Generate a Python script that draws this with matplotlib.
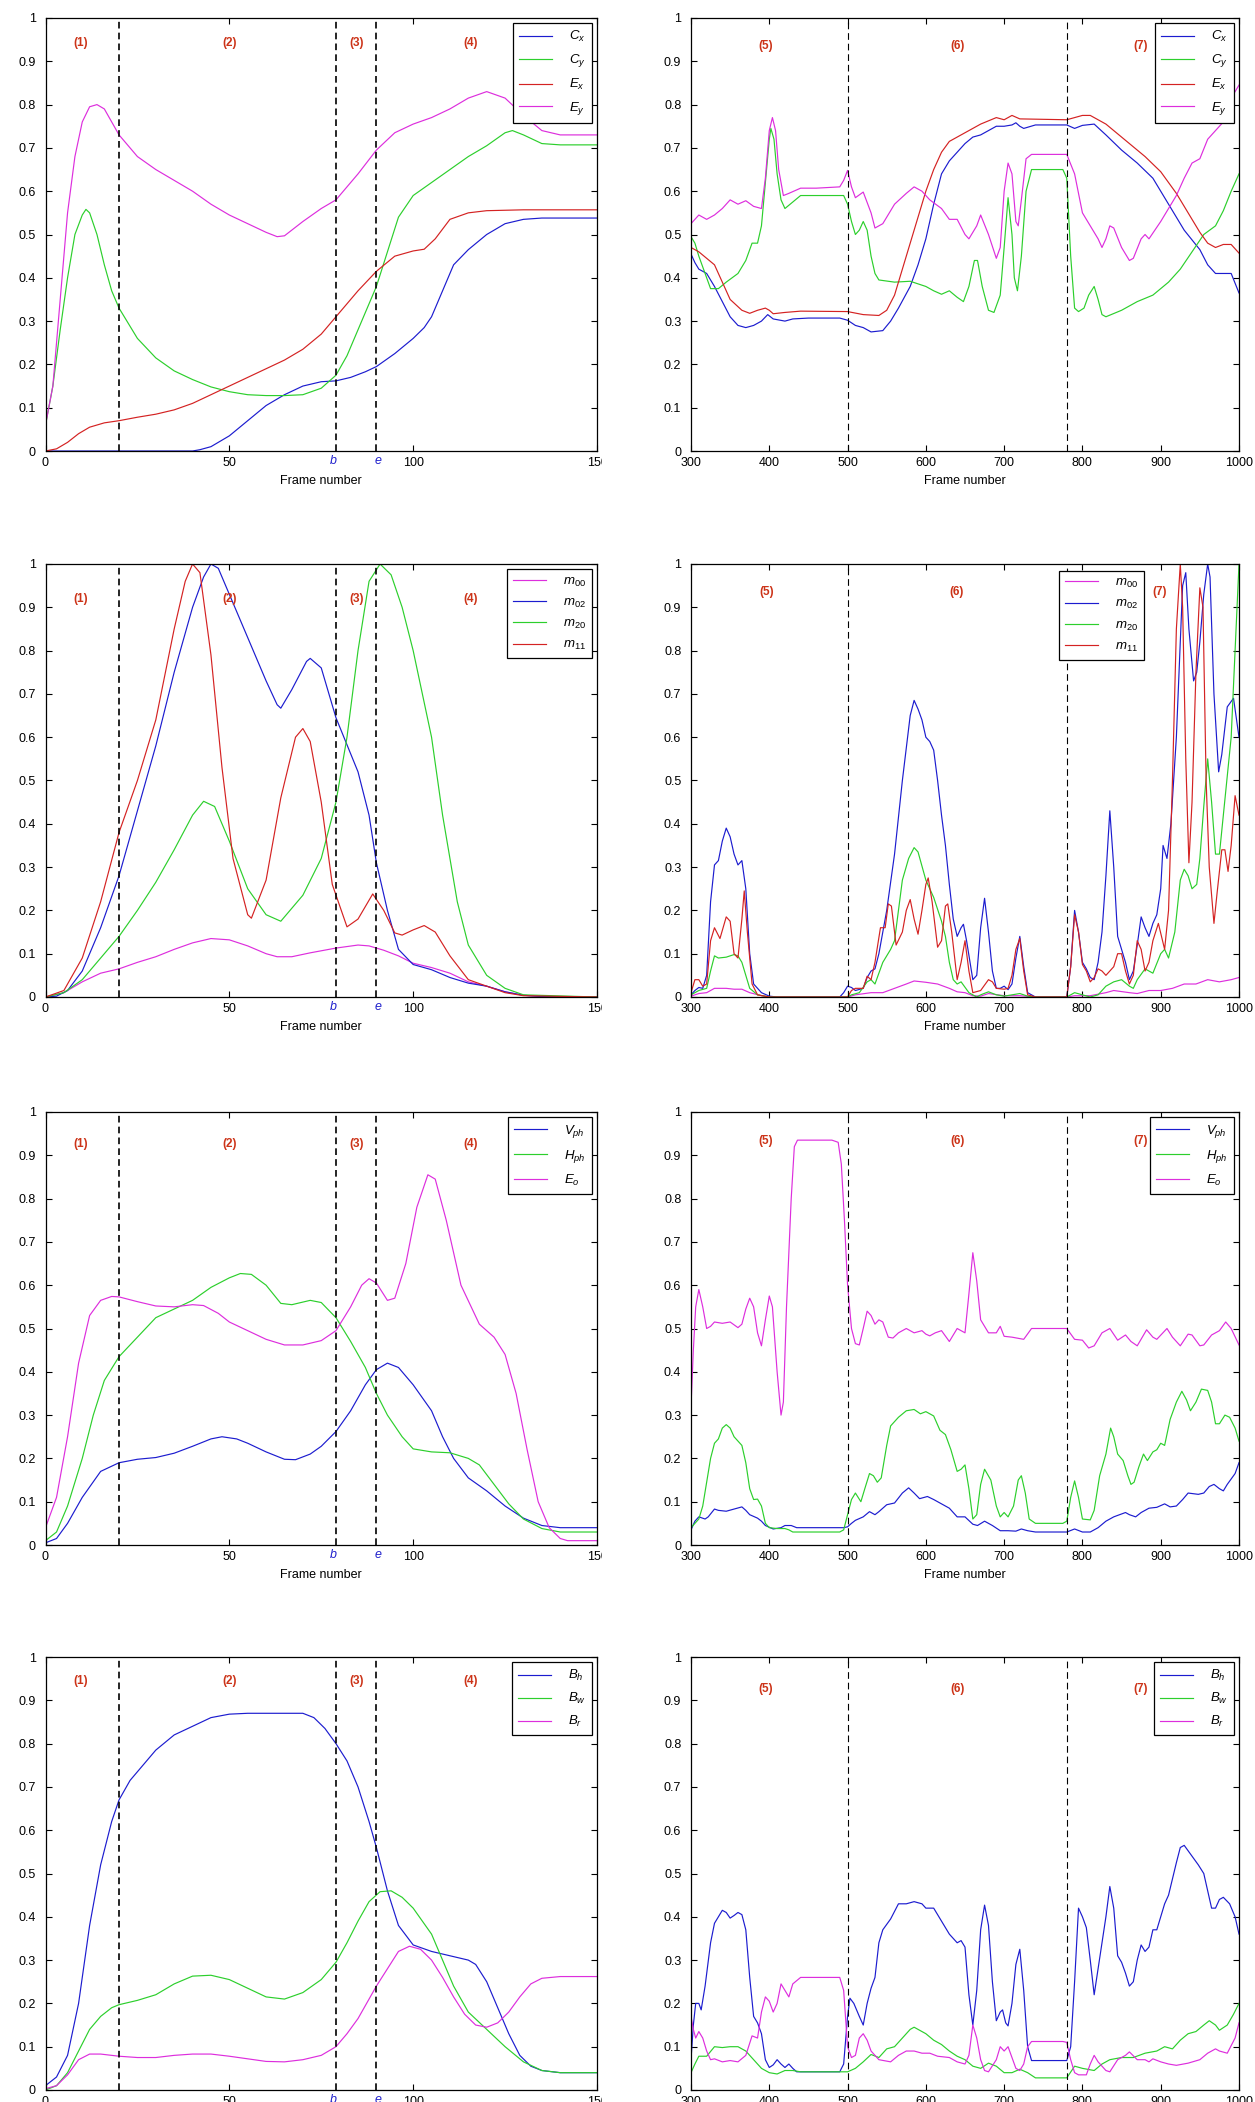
import numpy as np
import matplotlib
matplotlib.use('Agg')
import matplotlib.pyplot as plt
from matplotlib.transforms import Bbox, blended_transform_factory

plt.rcParams['font.family'] = ['Liberation Sans', 'DejaVu Sans']
plt.rcParams['mathtext.fontset'] = 'custom'
plt.rcParams['mathtext.rm'] = 'Liberation Sans'
plt.rcParams['mathtext.it'] = 'Liberation Sans:italic'

# ---- data: (frame, value) ----
# panel 1 : frames 0-150, centroid / extent
p1_cx = [(0, 0), (40, 0), (42, 0.003), (45, 0.01), (48, 0.025), (50, 0.035), (55, 0.07), (60, 0.105),
         (65, 0.13), (70, 0.15), (75, 0.16), (79, 0.162), (83, 0.17), (87, 0.183), (90, 0.195),
         (95, 0.225), (100, 0.26), (103, 0.285), (105, 0.31), (108, 0.37), (111, 0.43), (115, 0.465),
         (120, 0.5), (125, 0.525), (130, 0.535), (135, 0.538), (150, 0.538)]
p1_cy = [(0, 0.06), (2, 0.15), (4, 0.28), (6, 0.4), (8, 0.5), (10, 0.545), (11, 0.558), (12, 0.55),
         (14, 0.5), (16, 0.43), (18, 0.37), (20, 0.33), (25, 0.26), (30, 0.215), (35, 0.185),
         (40, 0.165), (45, 0.148), (50, 0.137), (55, 0.13), (60, 0.128), (65, 0.128), (70, 0.13),
         (75, 0.145), (79, 0.175), (82, 0.22), (85, 0.28), (88, 0.34), (90, 0.38), (93, 0.46),
         (96, 0.54), (100, 0.59), (105, 0.62), (110, 0.65), (115, 0.68), (120, 0.705), (125, 0.735),
         (127, 0.74), (130, 0.73), (135, 0.71), (140, 0.707), (150, 0.707)]
p1_ex = [(0, 0), (3, 0.005), (6, 0.02), (9, 0.04), (12, 0.055), (16, 0.065), (20, 0.07), (25, 0.078),
         (30, 0.085), (35, 0.095), (40, 0.11), (45, 0.13), (50, 0.15), (55, 0.17), (60, 0.19),
         (65, 0.21), (70, 0.235), (75, 0.27), (79, 0.31), (85, 0.37), (90, 0.415), (95, 0.45),
         (100, 0.462), (103, 0.466), (106, 0.49), (110, 0.535), (115, 0.55), (120, 0.555),
         (130, 0.557), (150, 0.557)]
p1_ey = [(0, 0.06), (2, 0.15), (4, 0.35), (6, 0.55), (8, 0.68), (10, 0.76), (12, 0.795), (14, 0.8),
         (16, 0.79), (18, 0.76), (20, 0.73), (25, 0.68), (30, 0.65), (35, 0.625), (40, 0.6),
         (45, 0.57), (50, 0.545), (55, 0.525), (60, 0.505), (63, 0.495), (65, 0.497), (70, 0.53),
         (75, 0.56), (79, 0.58), (85, 0.64), (90, 0.695), (95, 0.735), (100, 0.755), (105, 0.77),
         (110, 0.79), (115, 0.815), (120, 0.83), (125, 0.815), (130, 0.775), (135, 0.74),
         (140, 0.73), (150, 0.73)]

# panel 2 : frames 300-1000
p2_cx = [(300, 0.455), (305, 0.435), (310, 0.42), (320, 0.41), (330, 0.38), (340, 0.345), (350, 0.31),
         (360, 0.29), (370, 0.285), (380, 0.29), (390, 0.3), (398, 0.315), (405, 0.305), (420, 0.3),
         (430, 0.305), (450, 0.307), (490, 0.307), (500, 0.302), (510, 0.29), (520, 0.285),
         (530, 0.275), (545, 0.278), (555, 0.3), (565, 0.33), (580, 0.38), (590, 0.43), (600, 0.49),
         (610, 0.57), (620, 0.64), (630, 0.67), (640, 0.69), (650, 0.71), (660, 0.725), (670, 0.73),
         (680, 0.74), (690, 0.75), (700, 0.75), (710, 0.753), (715, 0.758), (720, 0.75), (725, 0.745),
         (740, 0.753), (780, 0.753), (790, 0.745), (800, 0.752), (815, 0.755), (830, 0.73),
         (850, 0.695), (870, 0.665), (890, 0.63), (910, 0.57), (930, 0.51), (950, 0.465),
         (960, 0.43), (970, 0.41), (990, 0.41), (1000, 0.365)]
p2_cy = [(300, 0.495), (305, 0.48), (310, 0.45), (320, 0.4), (325, 0.375), (335, 0.375), (345, 0.39),
         (360, 0.41), (370, 0.44), (378, 0.48), (385, 0.48), (390, 0.52), (395, 0.62), (400, 0.72),
         (402, 0.745), (406, 0.72), (410, 0.64), (415, 0.58), (420, 0.56), (430, 0.575), (440, 0.59),
         (495, 0.59), (500, 0.57), (505, 0.53), (510, 0.5), (515, 0.51), (520, 0.53), (525, 0.51),
         (530, 0.45), (535, 0.41), (540, 0.395), (560, 0.39), (580, 0.392), (600, 0.38), (610, 0.37),
         (620, 0.362), (630, 0.37), (640, 0.355), (648, 0.345), (655, 0.38), (662, 0.44), (666, 0.44),
         (672, 0.38), (680, 0.325), (687, 0.32), (695, 0.36), (700, 0.47), (705, 0.585), (710, 0.5),
         (713, 0.4), (717, 0.37), (722, 0.45), (728, 0.6), (735, 0.65), (775, 0.65), (780, 0.63),
         (785, 0.45), (790, 0.33), (795, 0.322), (802, 0.33), (808, 0.36), (815, 0.38), (820, 0.35),
         (825, 0.315), (830, 0.31), (850, 0.325), (870, 0.345), (890, 0.36), (910, 0.39), (925, 0.42),
         (940, 0.46), (955, 0.5), (970, 0.52), (980, 0.555), (990, 0.6), (1000, 0.64)]
p2_ex = [(300, 0.47), (310, 0.46), (320, 0.445), (330, 0.43), (340, 0.39), (350, 0.35), (365, 0.325),
         (375, 0.318), (385, 0.325), (395, 0.33), (400, 0.325), (405, 0.317), (420, 0.32), (440, 0.323),
         (500, 0.322), (520, 0.315), (540, 0.313), (550, 0.325), (560, 0.36), (570, 0.42), (580, 0.48),
         (590, 0.54), (600, 0.6), (610, 0.65), (620, 0.69), (630, 0.715), (650, 0.735), (670, 0.755),
         (690, 0.77), (700, 0.765), (710, 0.775), (720, 0.767), (780, 0.765), (790, 0.77),
         (800, 0.775), (810, 0.775), (820, 0.765), (830, 0.755), (850, 0.725), (870, 0.695),
         (880, 0.68), (900, 0.645), (910, 0.62), (920, 0.595), (930, 0.565), (940, 0.535),
         (950, 0.505), (960, 0.48), (970, 0.47), (980, 0.477), (990, 0.477), (1000, 0.457)]
p2_ey = [(300, 0.525), (310, 0.545), (320, 0.535), (330, 0.545), (340, 0.56), (350, 0.58), (360, 0.57),
         (370, 0.578), (380, 0.565), (390, 0.56), (395, 0.63), (400, 0.74), (404, 0.77), (408, 0.74),
         (412, 0.65), (418, 0.59), (425, 0.595), (440, 0.607), (460, 0.607), (490, 0.61), (495, 0.625),
         (500, 0.648), (505, 0.61), (510, 0.585), (520, 0.598), (530, 0.55), (535, 0.515), (545, 0.525),
         (560, 0.57), (575, 0.595), (585, 0.61), (595, 0.6), (605, 0.58), (620, 0.56), (630, 0.535),
         (640, 0.535), (650, 0.5), (655, 0.49), (665, 0.52), (670, 0.545), (680, 0.5), (690, 0.445),
         (695, 0.47), (700, 0.6), (705, 0.665), (710, 0.64), (715, 0.53), (718, 0.52), (722, 0.58),
         (728, 0.675), (735, 0.685), (780, 0.685), (790, 0.64), (800, 0.55), (810, 0.52), (820, 0.49),
         (825, 0.47), (830, 0.49), (835, 0.52), (840, 0.515), (850, 0.47), (860, 0.44), (865, 0.445),
         (875, 0.49), (880, 0.5), (885, 0.49), (900, 0.53), (910, 0.56), (920, 0.59), (930, 0.63),
         (940, 0.665), (950, 0.675), (960, 0.72), (970, 0.74), (980, 0.76), (985, 0.8), (995, 0.83),
         (1000, 0.845)]

# panel 3 : moments
p3_m00 = [(0, 0), (5, 0.01), (10, 0.035), (15, 0.055), (20, 0.065), (25, 0.08), (30, 0.093), (35, 0.11),
          (40, 0.125), (45, 0.135), (50, 0.132), (55, 0.118), (60, 0.1), (63, 0.093), (67, 0.093),
          (72, 0.102), (79, 0.113), (85, 0.12), (88, 0.118), (92, 0.108), (96, 0.095), (100, 0.078),
          (105, 0.068), (110, 0.055), (115, 0.035), (120, 0.025), (125, 0.012), (130, 0.004),
          (135, 0.001), (150, 0)]
p3_m02 = [(0, 0), (3, 0.002), (6, 0.015), (10, 0.06), (15, 0.16), (20, 0.28), (25, 0.43), (30, 0.58),
          (35, 0.75), (40, 0.9), (43, 0.97), (45, 1.0), (47, 0.99), (50, 0.93), (55, 0.83), (60, 0.73),
          (63, 0.675), (64, 0.667), (67, 0.71), (71, 0.775), (72, 0.782), (75, 0.76), (79, 0.645),
          (85, 0.52), (88, 0.42), (90, 0.31), (93, 0.2), (96, 0.11), (100, 0.075), (105, 0.063),
          (110, 0.045), (115, 0.032), (120, 0.025), (125, 0.012), (130, 0.004), (135, 0.001), (150, 0)]
p3_m20 = [(0, 0), (5, 0.01), (10, 0.04), (15, 0.09), (20, 0.14), (25, 0.2), (30, 0.265), (35, 0.34),
          (40, 0.42), (43, 0.452), (46, 0.44), (50, 0.36), (55, 0.25), (60, 0.19), (64, 0.175),
          (70, 0.235), (75, 0.32), (79, 0.45), (82, 0.6), (85, 0.8), (88, 0.96), (91, 1.0), (94, 0.975),
          (97, 0.9), (100, 0.8), (105, 0.6), (108, 0.42), (112, 0.22), (115, 0.12), (120, 0.05),
          (125, 0.02), (130, 0.005), (150, 0)]
p3_m11 = [(0, 0), (5, 0.015), (10, 0.09), (15, 0.22), (20, 0.38), (25, 0.5), (30, 0.64), (35, 0.85),
          (38, 0.96), (40, 1.0), (42, 0.98), (45, 0.79), (48, 0.53), (51, 0.32), (55, 0.19), (56, 0.182),
          (60, 0.27), (64, 0.46), (68, 0.6), (70, 0.62), (72, 0.59), (75, 0.45), (78, 0.26), (82, 0.162),
          (85, 0.18), (89, 0.238), (92, 0.2), (95, 0.148), (97, 0.143), (100, 0.155), (103, 0.165),
          (106, 0.15), (110, 0.095), (115, 0.04), (120, 0.025), (125, 0.01), (130, 0.003), (150, 0)]

# panel 4
p4_m00 = [(300, 0.002), (310, 0.008), (320, 0.01), (330, 0.02), (345, 0.02), (355, 0.018), (365, 0.018),
          (375, 0.01), (390, 0.003), (400, 0), (500, 0), (510, 0.005), (530, 0.01), (545, 0.01),
          (560, 0.02), (575, 0.03), (585, 0.037), (600, 0.034), (615, 0.03), (630, 0.02), (640, 0.012),
          (650, 0.01), (660, 0.003), (670, 0.002), (680, 0.008), (700, 0.003), (720, 0.003), (740, 0),
          (780, 0), (790, 0.003), (810, 0.003), (830, 0.01), (840, 0.015), (860, 0.01), (870, 0.008),
          (885, 0.015), (900, 0.015), (915, 0.02), (930, 0.03), (945, 0.03), (960, 0.04), (975, 0.035),
          (990, 0.04), (1000, 0.045)]
p4_m02 = [(300, 0.005), (305, 0.015), (310, 0.022), (315, 0.02), (320, 0.05), (325, 0.22), (330, 0.305),
          (335, 0.315), (340, 0.36), (345, 0.39), (350, 0.37), (355, 0.33), (360, 0.305), (365, 0.315),
          (370, 0.25), (375, 0.1), (380, 0.03), (390, 0.01), (400, 0.002), (410, 0), (490, 0),
          (495, 0.01), (500, 0.025), (505, 0.022), (510, 0.015), (520, 0.02), (525, 0.045), (530, 0.06),
          (535, 0.065), (540, 0.1), (550, 0.2), (560, 0.33), (570, 0.5), (580, 0.65), (585, 0.685),
          (590, 0.665), (595, 0.64), (600, 0.6), (605, 0.59), (610, 0.57), (615, 0.5), (620, 0.42),
          (625, 0.35), (630, 0.26), (635, 0.18), (640, 0.14), (645, 0.16), (648, 0.168), (652, 0.13),
          (660, 0.04), (665, 0.05), (670, 0.16), (675, 0.228), (680, 0.15), (685, 0.06), (690, 0.02),
          (695, 0.02), (700, 0.025), (705, 0.017), (710, 0.03), (715, 0.09), (720, 0.14), (725, 0.07),
          (730, 0.01), (740, 0), (780, 0), (785, 0.07), (790, 0.2), (795, 0.15), (800, 0.08),
          (805, 0.065), (810, 0.045), (815, 0.04), (820, 0.08), (825, 0.15), (830, 0.28), (835, 0.43),
          (840, 0.3), (845, 0.14), (850, 0.11), (855, 0.08), (860, 0.04), (865, 0.06), (870, 0.12),
          (875, 0.185), (880, 0.16), (885, 0.14), (890, 0.17), (895, 0.19), (900, 0.25), (903, 0.35),
          (908, 0.32), (913, 0.4), (920, 0.6), (925, 0.82), (928, 0.95), (932, 0.98), (936, 0.85),
          (942, 0.73), (946, 0.75), (950, 0.82), (955, 0.93), (960, 1.0), (963, 0.97), (968, 0.7),
          (974, 0.52), (978, 0.56), (985, 0.67), (993, 0.69), (1000, 0.6)]
p4_m20 = [(300, 0.005), (310, 0.015), (320, 0.02), (325, 0.06), (330, 0.095), (335, 0.09), (345, 0.092),
          (355, 0.098), (360, 0.095), (365, 0.08), (370, 0.05), (375, 0.02), (385, 0.005), (400, 0),
          (500, 0), (505, 0.005), (515, 0.01), (525, 0.035), (530, 0.04), (535, 0.03), (545, 0.08),
          (555, 0.11), (560, 0.13), (565, 0.2), (570, 0.27), (578, 0.32), (585, 0.345), (590, 0.335),
          (600, 0.27), (610, 0.23), (620, 0.175), (625, 0.14), (630, 0.08), (635, 0.04), (640, 0.03),
          (645, 0.035), (655, 0.01), (665, 0), (670, 0.005), (680, 0.012), (690, 0.005), (700, 0.002),
          (710, 0.005), (720, 0.008), (730, 0.002), (740, 0), (780, 0), (790, 0.01), (800, 0.005),
          (810, 0), (820, 0.005), (830, 0.025), (840, 0.035), (850, 0.04), (860, 0.025), (865, 0.02),
          (870, 0.04), (880, 0.065), (890, 0.055), (900, 0.1), (905, 0.11), (910, 0.09), (918, 0.15),
          (925, 0.27), (930, 0.295), (935, 0.28), (940, 0.25), (946, 0.26), (950, 0.32), (955, 0.44),
          (960, 0.55), (965, 0.45), (970, 0.33), (975, 0.33), (980, 0.42), (990, 0.6), (995, 0.8),
          (1000, 1.0)]
p4_m11 = [(300, 0.01), (305, 0.04), (310, 0.04), (315, 0.025), (320, 0.03), (325, 0.13), (330, 0.16),
          (337, 0.135), (345, 0.185), (350, 0.175), (355, 0.1), (360, 0.09), (365, 0.18), (368, 0.245),
          (372, 0.15), (378, 0.03), (385, 0.005), (400, 0), (500, 0), (505, 0.015), (510, 0.02),
          (520, 0.02), (525, 0.048), (530, 0.04), (535, 0.08), (542, 0.16), (548, 0.16), (552, 0.215),
          (556, 0.21), (562, 0.12), (570, 0.15), (575, 0.2), (580, 0.225), (585, 0.18), (590, 0.145),
          (595, 0.2), (600, 0.26), (603, 0.275), (608, 0.22), (615, 0.115), (620, 0.13), (625, 0.21),
          (628, 0.215), (633, 0.15), (640, 0.04), (645, 0.08), (650, 0.13), (655, 0.06), (660, 0.01),
          (670, 0.015), (680, 0.04), (685, 0.035), (690, 0.02), (700, 0.018), (705, 0.02), (710, 0.05),
          (715, 0.11), (720, 0.135), (725, 0.06), (730, 0.005), (740, 0), (780, 0), (785, 0.07),
          (790, 0.19), (795, 0.15), (800, 0.075), (805, 0.06), (810, 0.035), (815, 0.045), (820, 0.065),
          (825, 0.06), (830, 0.05), (840, 0.07), (845, 0.1), (850, 0.1), (855, 0.06), (860, 0.03),
          (865, 0.05), (870, 0.13), (875, 0.11), (880, 0.06), (885, 0.08), (890, 0.13), (897, 0.17),
          (905, 0.11), (910, 0.2), (915, 0.5), (920, 0.85), (925, 1.0), (928, 0.9), (932, 0.55),
          (936, 0.31), (940, 0.45), (945, 0.75), (950, 0.945), (954, 0.9), (958, 0.5), (962, 0.3),
          (968, 0.17), (972, 0.24), (978, 0.34), (982, 0.34), (986, 0.29), (990, 0.35), (995, 0.465),
          (1000, 0.42)]

# panel 5 : projections
p5_vph = [(0, 0.005), (3, 0.015), (6, 0.05), (10, 0.11), (15, 0.17), (20, 0.19), (25, 0.198), (30, 0.202),
          (35, 0.212), (40, 0.228), (45, 0.245), (48, 0.25), (52, 0.245), (55, 0.235), (60, 0.215),
          (65, 0.198), (68, 0.197), (72, 0.21), (75, 0.228), (79, 0.262), (83, 0.31), (87, 0.37),
          (90, 0.405), (93, 0.42), (96, 0.41), (100, 0.37), (105, 0.31), (108, 0.25), (111, 0.2),
          (115, 0.155), (120, 0.125), (125, 0.09), (130, 0.062), (135, 0.045), (140, 0.04), (150, 0.04)]
p5_hph = [(0, 0.01), (3, 0.03), (6, 0.09), (10, 0.2), (13, 0.3), (16, 0.38), (20, 0.435), (25, 0.48),
          (30, 0.525), (35, 0.545), (40, 0.565), (45, 0.595), (50, 0.617), (53, 0.627), (56, 0.625),
          (60, 0.6), (64, 0.558), (67, 0.555), (72, 0.565), (75, 0.56), (79, 0.525), (83, 0.47),
          (87, 0.41), (90, 0.35), (93, 0.3), (97, 0.25), (100, 0.222), (105, 0.215), (110, 0.213),
          (115, 0.2), (118, 0.185), (122, 0.14), (126, 0.095), (130, 0.06), (135, 0.038), (140, 0.03),
          (150, 0.03)]
p5_eo = [(0, 0.04), (3, 0.11), (6, 0.25), (9, 0.42), (12, 0.53), (15, 0.565), (18, 0.574), (20, 0.573),
         (25, 0.562), (30, 0.552), (35, 0.55), (40, 0.555), (43, 0.553), (47, 0.535), (50, 0.515),
         (55, 0.495), (60, 0.475), (65, 0.462), (70, 0.462), (75, 0.472), (79, 0.495), (83, 0.55),
         (86, 0.6), (88, 0.615), (90, 0.605), (93, 0.565), (95, 0.57), (98, 0.65), (101, 0.78),
         (104, 0.855), (106, 0.845), (109, 0.75), (113, 0.6), (118, 0.51), (122, 0.48), (125, 0.44),
         (128, 0.35), (131, 0.22), (134, 0.1), (137, 0.04), (140, 0.015), (142, 0.01), (150, 0.01)]

# panel 6
p6_vph = [(300, 0.035), (305, 0.055), (310, 0.065), (318, 0.06), (322, 0.065), (330, 0.083), (335, 0.08),
          (345, 0.078), (355, 0.083), (365, 0.088), (370, 0.08), (375, 0.07), (385, 0.062), (390, 0.055),
          (395, 0.045), (405, 0.037), (415, 0.04), (420, 0.045), (428, 0.045), (435, 0.04), (495, 0.04),
          (500, 0.042), (505, 0.05), (510, 0.057), (520, 0.065), (528, 0.077), (535, 0.07), (540, 0.077),
          (550, 0.093), (560, 0.097), (570, 0.12), (578, 0.132), (585, 0.12), (592, 0.107), (602, 0.112),
          (610, 0.105), (620, 0.095), (630, 0.085), (640, 0.065), (650, 0.065), (660, 0.048),
          (666, 0.045), (675, 0.055), (685, 0.045), (695, 0.033), (705, 0.033), (715, 0.032),
          (722, 0.037), (730, 0.033), (740, 0.03), (780, 0.03), (790, 0.037), (800, 0.03), (810, 0.03),
          (820, 0.04), (830, 0.055), (840, 0.065), (855, 0.075), (860, 0.07), (868, 0.065), (875, 0.075),
          (885, 0.085), (895, 0.087), (905, 0.095), (912, 0.088), (920, 0.09), (928, 0.105), (935, 0.12),
          (948, 0.117), (955, 0.12), (962, 0.135), (968, 0.14), (975, 0.13), (980, 0.125), (985, 0.14),
          (995, 0.165), (1000, 0.19)]
p6_hph = [(300, 0.04), (305, 0.05), (310, 0.06), (315, 0.09), (320, 0.145), (325, 0.2), (330, 0.235),
          (335, 0.245), (340, 0.27), (345, 0.278), (350, 0.27), (355, 0.25), (365, 0.23), (370, 0.19),
          (375, 0.13), (380, 0.105), (385, 0.106), (390, 0.09), (395, 0.05), (400, 0.04), (410, 0.038),
          (420, 0.038), (425, 0.035), (430, 0.03), (490, 0.03), (495, 0.035), (500, 0.07), (505, 0.105),
          (510, 0.12), (517, 0.1), (522, 0.13), (528, 0.165), (533, 0.16), (538, 0.145), (543, 0.155),
          (550, 0.23), (555, 0.275), (565, 0.295), (575, 0.31), (585, 0.313), (593, 0.303), (600, 0.308),
          (610, 0.298), (618, 0.265), (625, 0.255), (632, 0.22), (640, 0.17), (645, 0.175), (650, 0.185),
          (655, 0.13), (660, 0.06), (665, 0.07), (670, 0.14), (675, 0.175), (683, 0.15), (690, 0.09),
          (695, 0.065), (700, 0.075), (705, 0.065), (712, 0.09), (718, 0.15), (722, 0.16), (727, 0.12),
          (732, 0.06), (740, 0.05), (775, 0.05), (780, 0.055), (785, 0.11), (790, 0.148), (795, 0.11),
          (800, 0.06), (810, 0.058), (815, 0.08), (822, 0.16), (830, 0.21), (836, 0.27), (840, 0.25),
          (845, 0.21), (852, 0.195), (858, 0.16), (862, 0.14), (866, 0.145), (872, 0.18), (878, 0.21),
          (883, 0.195), (890, 0.215), (895, 0.22), (900, 0.235), (905, 0.23), (912, 0.29), (920, 0.33),
          (927, 0.355), (933, 0.335), (938, 0.31), (945, 0.33), (952, 0.36), (960, 0.357), (965, 0.33),
          (970, 0.28), (975, 0.28), (982, 0.3), (988, 0.295), (995, 0.27), (1000, 0.24)]
p6_eo = [(300, 0.32), (303, 0.45), (306, 0.55), (310, 0.59), (315, 0.55), (320, 0.5), (325, 0.505),
         (330, 0.515), (340, 0.512), (350, 0.515), (360, 0.502), (365, 0.51), (370, 0.545), (375, 0.57),
         (380, 0.55), (385, 0.49), (390, 0.46), (395, 0.52), (400, 0.575), (404, 0.55), (410, 0.4),
         (415, 0.3), (418, 0.33), (422, 0.55), (428, 0.8), (432, 0.92), (436, 0.935), (480, 0.935),
         (488, 0.93), (492, 0.88), (496, 0.75), (500, 0.6), (505, 0.5), (510, 0.465), (515, 0.462),
         (520, 0.5), (525, 0.54), (530, 0.53), (535, 0.51), (540, 0.52), (545, 0.515), (552, 0.48),
         (558, 0.478), (565, 0.49), (575, 0.5), (585, 0.49), (595, 0.495), (600, 0.487), (605, 0.483),
         (612, 0.49), (620, 0.495), (630, 0.47), (640, 0.5), (645, 0.495), (650, 0.49), (655, 0.58),
         (660, 0.675), (665, 0.61), (670, 0.52), (680, 0.49), (690, 0.49), (695, 0.505), (700, 0.482),
         (710, 0.48), (725, 0.475), (735, 0.5), (780, 0.5), (790, 0.475), (800, 0.473), (808, 0.455),
         (815, 0.46), (825, 0.49), (835, 0.5), (845, 0.473), (855, 0.485), (862, 0.47), (870, 0.46),
         (882, 0.497), (890, 0.48), (895, 0.475), (908, 0.5), (915, 0.48), (925, 0.46), (935, 0.487),
         (940, 0.485), (950, 0.46), (955, 0.462), (965, 0.485), (975, 0.495), (983, 0.515), (990, 0.5),
         (1000, 0.462)]

# panel 7 : bounding box
p7_bh = [(0, 0.01), (3, 0.03), (6, 0.08), (9, 0.2), (12, 0.38), (15, 0.52), (18, 0.62), (20, 0.67),
         (23, 0.715), (26, 0.745), (30, 0.785), (35, 0.82), (40, 0.84), (45, 0.86), (50, 0.868),
         (55, 0.87), (70, 0.87), (73, 0.86), (76, 0.835), (79, 0.8), (82, 0.76), (85, 0.7), (88, 0.62),
         (90, 0.56), (93, 0.46), (96, 0.38), (100, 0.335), (105, 0.32), (110, 0.31), (115, 0.3),
         (117, 0.29), (120, 0.25), (123, 0.19), (126, 0.13), (129, 0.08), (132, 0.055), (135, 0.045),
         (140, 0.04), (150, 0.04)]
p7_bw = [(0, 0), (3, 0.01), (6, 0.04), (9, 0.09), (12, 0.14), (15, 0.17), (18, 0.19), (20, 0.197),
         (25, 0.207), (30, 0.22), (35, 0.245), (40, 0.263), (45, 0.265), (50, 0.255), (55, 0.235),
         (60, 0.215), (65, 0.21), (70, 0.225), (75, 0.255), (79, 0.295), (82, 0.34), (85, 0.39),
         (88, 0.435), (91, 0.458), (94, 0.46), (97, 0.445), (100, 0.42), (105, 0.36), (108, 0.3),
         (111, 0.24), (115, 0.18), (120, 0.14), (125, 0.1), (130, 0.065), (135, 0.045), (140, 0.04),
         (150, 0.04)]
p7_br = [(0, 0.003), (3, 0.01), (6, 0.035), (9, 0.07), (12, 0.083), (15, 0.083), (20, 0.078), (25, 0.075),
         (30, 0.075), (35, 0.08), (40, 0.083), (45, 0.083), (50, 0.078), (55, 0.072), (60, 0.066),
         (65, 0.065), (70, 0.07), (75, 0.08), (79, 0.1), (82, 0.13), (85, 0.165), (88, 0.21), (90, 0.24),
         (93, 0.28), (96, 0.32), (99, 0.332), (102, 0.325), (105, 0.3), (108, 0.26), (111, 0.215),
         (114, 0.175), (117, 0.15), (120, 0.145), (123, 0.155), (126, 0.18), (129, 0.215), (132, 0.245),
         (135, 0.258), (140, 0.262), (150, 0.262)]

# panel 8
p8_bh = [(300, 0.07), (303, 0.15), (306, 0.2), (310, 0.2), (313, 0.185), (318, 0.24), (325, 0.34),
         (330, 0.385), (335, 0.4), (340, 0.415), (345, 0.41), (350, 0.397), (355, 0.403), (360, 0.41),
         (365, 0.405), (370, 0.37), (375, 0.26), (380, 0.17), (385, 0.155), (390, 0.13), (395, 0.07),
         (400, 0.052), (405, 0.058), (410, 0.07), (415, 0.06), (420, 0.052), (425, 0.06), (430, 0.05),
         (435, 0.042), (490, 0.042), (495, 0.06), (500, 0.17), (503, 0.212), (508, 0.2), (515, 0.17),
         (520, 0.15), (525, 0.2), (530, 0.235), (535, 0.26), (540, 0.34), (545, 0.37), (555, 0.395),
         (565, 0.43), (575, 0.43), (585, 0.435), (595, 0.43), (600, 0.42), (610, 0.42), (620, 0.39),
         (630, 0.36), (640, 0.34), (645, 0.345), (650, 0.33), (655, 0.22), (660, 0.15), (665, 0.23),
         (670, 0.37), (675, 0.427), (680, 0.38), (685, 0.25), (690, 0.16), (695, 0.18), (698, 0.185),
         (702, 0.155), (705, 0.148), (710, 0.2), (715, 0.29), (720, 0.325), (725, 0.23), (730, 0.1),
         (735, 0.068), (780, 0.068), (785, 0.1), (790, 0.25), (795, 0.42), (800, 0.4), (805, 0.375),
         (810, 0.3), (815, 0.22), (820, 0.28), (825, 0.34), (830, 0.4), (835, 0.47), (840, 0.42),
         (845, 0.31), (850, 0.295), (855, 0.27), (860, 0.24), (865, 0.25), (870, 0.3), (875, 0.335),
         (880, 0.32), (885, 0.33), (890, 0.37), (895, 0.37), (900, 0.4), (905, 0.43), (910, 0.45),
         (920, 0.525), (925, 0.56), (930, 0.565), (940, 0.54), (948, 0.52), (955, 0.5), (960, 0.46),
         (965, 0.42), (970, 0.42), (975, 0.44), (980, 0.445), (988, 0.43), (995, 0.4), (1000, 0.36)]
p8_bw = [(300, 0.04), (305, 0.06), (310, 0.078), (320, 0.078), (330, 0.1), (340, 0.098), (350, 0.1),
         (360, 0.1), (370, 0.09), (380, 0.07), (390, 0.05), (400, 0.04), (410, 0.037), (420, 0.045),
         (430, 0.045), (440, 0.042), (500, 0.042), (510, 0.05), (520, 0.065), (530, 0.082), (540, 0.075),
         (550, 0.095), (560, 0.1), (570, 0.12), (580, 0.14), (585, 0.145), (590, 0.14), (600, 0.13),
         (610, 0.115), (620, 0.105), (630, 0.09), (640, 0.078), (650, 0.07), (660, 0.055), (670, 0.05),
         (680, 0.062), (690, 0.055), (700, 0.04), (710, 0.04), (720, 0.048), (730, 0.04), (740, 0.028),
         (780, 0.028), (790, 0.055), (800, 0.05), (815, 0.045), (825, 0.06), (835, 0.07), (850, 0.075),
         (865, 0.075), (880, 0.085), (895, 0.09), (905, 0.1), (915, 0.095), (925, 0.115), (935, 0.13),
         (945, 0.135), (955, 0.15), (962, 0.16), (970, 0.15), (975, 0.138), (985, 0.15), (993, 0.175),
         (1000, 0.2)]
p8_br = [(300, 0.17), (303, 0.14), (306, 0.12), (310, 0.135), (315, 0.12), (320, 0.09), (325, 0.07),
         (330, 0.072), (340, 0.065), (350, 0.068), (360, 0.065), (370, 0.08), (378, 0.125), (385, 0.12),
         (390, 0.18), (395, 0.215), (400, 0.205), (405, 0.18), (410, 0.2), (415, 0.245), (420, 0.23),
         (425, 0.215), (430, 0.245), (440, 0.26), (490, 0.26), (495, 0.23), (500, 0.1), (505, 0.075),
         (510, 0.08), (515, 0.12), (520, 0.13), (525, 0.115), (530, 0.09), (540, 0.07), (555, 0.065),
         (565, 0.08), (575, 0.09), (585, 0.09), (595, 0.085), (605, 0.085), (615, 0.078), (630, 0.075),
         (640, 0.065), (650, 0.06), (655, 0.08), (660, 0.15), (665, 0.12), (670, 0.07), (675, 0.045),
         (680, 0.042), (690, 0.07), (695, 0.1), (700, 0.09), (705, 0.1), (710, 0.075), (715, 0.05),
         (720, 0.045), (725, 0.06), (730, 0.1), (735, 0.112), (775, 0.112), (780, 0.11), (785, 0.07),
         (790, 0.04), (795, 0.035), (805, 0.035), (810, 0.06), (815, 0.08), (820, 0.065), (830, 0.045),
         (835, 0.042), (845, 0.07), (855, 0.08), (860, 0.088), (870, 0.07), (880, 0.07), (885, 0.065),
         (890, 0.072), (900, 0.065), (910, 0.06), (920, 0.057), (935, 0.062), (950, 0.07), (960, 0.085),
         (970, 0.095), (975, 0.09), (985, 0.085), (995, 0.12), (1000, 0.155)]

# phase boundaries and labels
left_bounds = [20, 79, 90]
right_bounds = [500, 780]
left_phase_x = [9.5, 50, 84.5, 115.5]
left_phase_txt = ['(1)', '(2)', '(3)', '(4)']
right_phase_x = [396, 640, 874]
right_phase_x_p4 = [397, 639, 898]   # (7) sits right of the legend in the moments panel
right_phase_txt = ['(5)', '(6)', '(7)']

BLUE, GREEN, RED, MAG = '#1c1ccf', '#2ccf2c', '#d42222', '#dd2edd'
PHASE_RED = '#cc3318'

panels = [
    # (data series, colours, legend labels, legend anchor, phase label y)
    ([p1_cx, p1_cy, p1_ex, p1_ey], [BLUE, GREEN, RED, MAG],
     [r'$C_x$', r'$C_y$', r'$E_x$', r'$E_y$'], None, 0.943),
    ([p2_cx, p2_cy, p2_ex, p2_ey], [BLUE, GREEN, RED, MAG],
     [r'$C_x$', r'$C_y$', r'$E_x$', r'$E_y$'], None, 0.935),
    ([p3_m00, p3_m02, p3_m20, p3_m11], [MAG, BLUE, GREEN, RED],
     [r'$m_{\mathit{00}}$', r'$m_{\mathit{02}}$', r'$m_{\mathit{20}}$', r'$m_{\mathit{11}}$'], None, 0.92),
    ([p4_m00, p4_m02, p4_m20, p4_m11], [MAG, BLUE, GREEN, RED],
     [r'$m_{\mathit{00}}$', r'$m_{\mathit{02}}$', r'$m_{\mathit{20}}$', r'$m_{\mathit{11}}$'], (0.826, 0.984), 0.935),
    ([p5_vph, p5_hph, p5_eo], [BLUE, GREEN, MAG],
     [r'$V_{ph}$', r'$H_{ph}$', r'$E_o$'], None, 0.926),
    ([p6_vph, p6_hph, p6_eo], [BLUE, GREEN, MAG],
     [r'$V_{ph}$', r'$H_{ph}$', r'$E_o$'], None, 0.933),
    ([p7_bh, p7_bw, p7_br], [BLUE, GREEN, MAG],
     [r'$B_h$', r'$B_w$', r'$B_r$'], None, 0.945),
    ([p8_bh, p8_bw, p8_br], [BLUE, GREEN, MAG],
     [r'$B_h$', r'$B_w$', r'$B_r$'], None, 0.925),
]

W, H = 1255, 2102
fig = plt.figure(figsize=(W / 100, H / 100), dpi=100)

col_left = [45.5, 691]
col_width = [551.5, 548]
row_top = [18, 564, 1112, 1657]
ax_h = 433

for i, (series, colors, labels, anchor, phase_y) in enumerate(panels):
    row, col = divmod(i, 2)
    x0 = col_left[col] / W
    y0 = 1 - (row_top[row] + ax_h) / H
    ax = fig.add_axes([x0, y0, col_width[col] / W, ax_h / H])

    for s, c, lab in zip(series, colors, labels):
        arr = np.array(s, dtype=float)
        ax.plot(arr[:, 0], arr[:, 1], color=c, lw=0.85, label=lab)

    ax.set_ylim(0, 1)
    ax.set_yticks(np.arange(0, 1.01, 0.1))
    ax.set_yticklabels(['0'] + ['%.1f' % v for v in np.arange(0.1, 0.95, 0.1)] + ['1'])

    if col == 0:
        ax.set_xlim(0, 150)
        ax.set_xticks([0, 50, 100, 150])
        bounds, ph_x, ph_t = left_bounds, left_phase_x, left_phase_txt
        dash_lw, dash = 1.2, (4, 2.5)
    else:
        ax.set_xlim(300, 1000)
        ax.set_xticks(range(300, 1001, 100))
        bounds, ph_t = right_bounds, right_phase_txt
        ph_x = right_phase_x_p4 if i == 3 else right_phase_x
        dash_lw, dash = 0.8, (6, 3.5)

    for b in bounds:
        ax.axvline(b, color='black', lw=dash_lw, dashes=dash)

    for px, pt in zip(ph_x, ph_t):
        ax.text(px, phase_y, pt, color=PHASE_RED, fontsize=8.5, fontweight='bold',
                ha='center', va='center', zorder=5)

    ax.tick_params(direction='in', top=True, right=True, length=4, width=0.8,
                   labelsize=9, colors='black')
    ax.tick_params(axis='y', pad=7)
    ax.tick_params(axis='x', pad=4)
    for sp in ax.spines.values():
        sp.set_linewidth(0.9)
    # the bottom row's axis title lies below the edge of the source picture
    if row < 3:
        ax.set_xlabel('Frame number', fontsize=9, labelpad=5)

    if col == 0:
        trans = blended_transform_factory(ax.transData, ax.transAxes)
        ax.text(78.3, -0.01, 'b', transform=trans, color='#2020cc', fontsize=9,
                fontstyle='italic', ha='center', va='top')
        ax.text(90.5, -0.01, 'e', transform=trans, color='#2020cc', fontsize=9,
                fontstyle='italic', ha='center', va='top')
        # the right end of the "150" label is cut off in the source picture
        clip = Bbox.from_extents(0, 0, 602, H)
        for lab in ax.get_xticklabels():
            lab.set_clip_on(True)
            lab.set_clip_box(clip)

    leg_kw = dict(loc='upper right', fontsize=9.5, frameon=True, fancybox=False,
                  edgecolor='black', framealpha=1, handlelength=2.5, handletextpad=1.3,
                  labelspacing=0.6, borderpad=0.45, borderaxespad=0.4)
    if anchor is not None:
        leg_kw['bbox_to_anchor'] = anchor
        leg_kw['borderaxespad'] = 0
    leg = ax.legend(**leg_kw)
    leg.get_frame().set_linewidth(0.9)

fig.savefig('out.png', dpi=100)
